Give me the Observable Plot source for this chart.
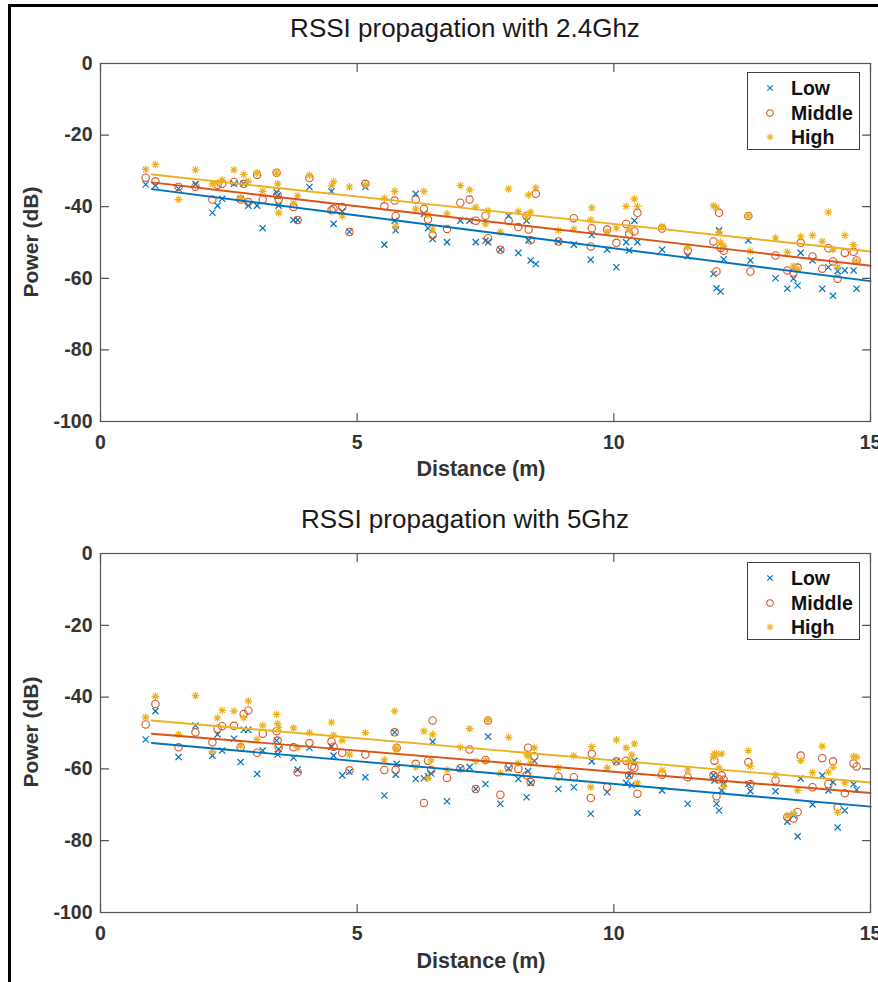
<!DOCTYPE html>
<html><head><meta charset="utf-8">
<script src="https://cdn.jsdelivr.net/npm/d3@7"></script>
<script src="https://cdn.jsdelivr.net/npm/@observablehq/plot@0.6"></script>
<style>
body{margin:0;background:#fff;}
#page{position:relative;width:878px;height:982px;overflow:hidden;background:#fff;font-family:"Liberation Sans",Arial,Helvetica,sans-serif;}
#border{position:absolute;left:8px;top:4px;width:900px;height:1000px;border-top:3px solid #000;border-left:3px solid #000;}
.plot{position:absolute;left:0;}
.title{position:absolute;transform:translate(-50%,-50%);white-space:nowrap;font-size:26px;color:#1a1a1a;}
.xlab{position:absolute;transform:translate(-50%,-50%);white-space:nowrap;font-size:21.5px;font-weight:bold;color:#333;}
.ylab{position:absolute;transform:translate(-50%,-50%) rotate(-90deg);white-space:nowrap;font-size:21px;font-weight:bold;color:#333;}
.legend{position:absolute;width:111px;height:76px;border:1px solid #404040;background:#fff;}
.item{position:absolute;left:0;height:24px;width:111px;}
.item svg{position:absolute;left:14px;top:4px;}
.item span{position:absolute;left:43px;top:0;line-height:24px;font-size:19.5px;font-weight:bold;color:#111;}
</style>
</head><body>
<div id="page">
  <div id="border"></div>
  <div id="p1" class="plot" style="top:0"></div>
  <div id="p2" class="plot" style="top:490px"></div>
  <div class="title" style="left:465px;top:28px">RSSI propagation with 2.4Ghz</div>
  <div class="title" style="left:465px;top:519px">RSSI propagation with 5Ghz</div>
  <div class="xlab" style="left:481px;top:469px">Distance (m)</div>
  <div class="xlab" style="left:481px;top:961px">Distance (m)</div>
  <div class="ylab" style="left:31px;top:242px">Power (dB)</div>
  <div class="ylab" style="left:31px;top:732px">Power (dB)</div>
  <div id="leg1" class="legend" style="left:747px;top:72px"></div>
  <div id="leg2" class="legend" style="left:747px;top:562px"></div>
</div>
<script>
// ---------- data ----------
const seriesNames = ["Low", "Middle", "High"];
const xTicks = [0, 5, 10, 15];
const yTicks = [0, -20, -40, -60, -80, -100];
const fitX = [1, 15];

// 2.4 GHz
const dist24 = [0.88,1.07,1.52,1.85,2.18,2.28,2.37,2.6,2.73,2.79,2.88,3.05,3.16,3.43,3.45,3.47,3.76,3.84,4.07,4.5,4.54,4.71,4.85,5.16,5.53,5.73,5.75,6.14,6.3,6.38,6.47,6.75,7.01,7.19,7.31,7.5,7.55,7.79,7.95,8.14,8.3,8.34,8.38,8.48,8.92,9.22,9.55,9.57,9.87,10.05,10.24,10.3,10.4,10.46,10.94,11.44,11.94,12.0,12.05,12.08,12.14,12.62,12.66,13.15,13.38,13.5,13.58,13.64,13.87,14.06,14.18,14.27,14.36,14.5,14.67,14.73];
const low24 = [-33.8,-34.1,-35.0,-33.7,-41.7,-39.7,-37.8,-33.6,-37.8,-33.6,-39.7,-39.7,-46.0,-35.9,-37.0,-39.7,-43.7,-43.7,-34.5,-35.7,-44.8,-41.3,-47.0,-34.5,-50.6,-43.9,-46.6,-36.4,-42.0,-46.0,-49.0,-49.9,-43.9,-43.9,-49.9,-49.5,-49.9,-52.0,-42.5,-52.9,-43.9,-49.4,-55.0,-56.0,-49.7,-50.6,-54.8,-47.9,-52.0,-56.9,-49.9,-52.2,-43.9,-49.9,-52.0,-53.8,-58.8,-62.8,-46.6,-63.7,-54.7,-49.4,-55.0,-60.0,-62.9,-60.1,-62.0,-52.9,-55.0,-62.9,-56.9,-64.9,-58.0,-57.8,-57.8,-62.9];
const mid24 = [-31.9,-32.9,-34.4,-34.4,-38.0,-33.9,-33.6,-33.1,-38.0,-33.6,-38.7,-31.1,-38.0,-30.5,-36.7,-38.0,-40.1,-43.7,-32.0,-41.0,-40.6,-40.1,-47.1,-33.6,-39.9,-38.3,-42.6,-38.0,-40.6,-43.6,-48.0,-46.2,-38.9,-38.0,-43.9,-42.5,-48.8,-52.0,-43.9,-45.7,-42.5,-46.4,-49.4,-36.4,-49.7,-43.2,-51.1,-46.0,-46.4,-50.1,-44.8,-47.6,-46.9,-41.7,-46.1,-52.2,-49.7,-58.1,-41.7,-51.5,-52.3,-42.6,-58.1,-53.6,-57.8,-58.4,-57.0,-50.1,-53.9,-57.3,-51.6,-55.3,-60.1,-52.9,-52.6,-55.0];
const high24 = [-29.6,-28.2,-38.0,-29.7,-33.6,-33.4,-32.5,-29.7,-37.6,-31.0,-32.9,-30.6,-35.7,-30.6,-33.6,-41.7,-39.0,-36.9,-31.2,-34.2,-33.0,-42.6,-34.5,-33.9,-37.6,-35.7,-45.5,-40.6,-35.7,-42.3,-46.3,-42.0,-34.1,-35.3,-40.1,-44.8,-41.1,-47.1,-35.0,-41.3,-42.9,-36.7,-41.5,-34.7,-46.6,-46.3,-43.7,-40.3,-47.0,-45.9,-39.9,-46.5,-37.8,-39.9,-45.5,-51.3,-39.7,-40.3,-47.1,-50.0,-51.0,-42.6,-52.4,-48.7,-52.7,-56.6,-57.5,-48.4,-48.0,-49.7,-41.5,-52.0,-56.9,-48.0,-50.6,-55.3];
const low24Fit = [-35.1, -60.8];
const mid24Fit = [-33.2, -56.5];
const high24Fit = [-31.0, -52.5];

// 5 GHz
const dist5 = [0.88,1.07,1.52,1.85,2.18,2.28,2.37,2.6,2.73,2.79,2.88,3.05,3.16,3.43,3.45,3.47,3.76,3.84,4.07,4.5,4.54,4.71,4.85,5.16,5.53,5.73,5.75,5.77,6.14,6.3,6.38,6.44,6.47,6.75,7.01,7.19,7.31,7.5,7.55,7.79,7.95,8.14,8.3,8.33,8.38,8.45,8.92,9.22,9.55,9.57,9.87,10.05,10.24,10.3,10.35,10.4,10.46,10.94,11.44,11.94,11.96,12.0,12.05,12.1,12.14,12.62,12.66,13.15,13.38,13.5,13.58,13.64,13.87,14.06,14.18,14.27,14.36,14.5,14.67,14.73];
const low5 = [-51.8,-43.9,-56.7,-47.9,-56.3,-50.4,-54.9,-51.6,-58.1,-49.1,-49.1,-61.4,-54.9,-52.1,-56.0,-54.5,-56.9,-60.2,-54.1,-53.8,-56.3,-61.8,-60.8,-62.3,-67.4,-49.8,-61.6,-58.6,-62.8,-62.6,-62.0,-61.3,-52.4,-69.0,-59.9,-59.5,-65.6,-64.2,-51.0,-69.7,-59.9,-62.8,-67.9,-60.6,-63.9,-57.8,-65.6,-65.1,-72.5,-57.9,-66.5,-57.9,-63.9,-61.8,-64.5,-57.7,-72.2,-66.0,-69.7,-61.8,-63.2,-69.7,-71.6,-66.0,-64.0,-64.2,-66.2,-66.2,-74.7,-73.0,-78.8,-62.7,-69.9,-61.8,-66.0,-63.7,-76.3,-71.6,-64.3,-65.8];
const mid5 = [-47.6,-41.9,-54.0,-49.8,-52.6,-48.8,-48.1,-48.0,-54.0,-44.7,-43.7,-55.5,-50.2,-49.5,-52.1,-54.0,-54.0,-60.9,-52.8,-52.4,-53.8,-55.5,-60.4,-56.0,-60.3,-49.8,-60.3,-54.1,-58.6,-69.5,-57.7,-60.3,-46.5,-62.5,-59.8,-54.6,-65.6,-57.5,-46.5,-67.2,-59.5,-60.0,-61.8,-54.1,-63.6,-56.5,-62.1,-62.3,-68.1,-55.8,-65.1,-57.9,-57.7,-61.8,-59.3,-59.7,-66.9,-61.6,-62.3,-61.8,-57.7,-67.6,-62.9,-61.8,-63.0,-58.1,-64.2,-63.2,-73.5,-73.8,-72.0,-56.3,-65.1,-57.0,-64.2,-57.9,-70.7,-66.8,-58.5,-59.3];
const high5 = [-45.6,-39.8,-50.4,-39.6,-55.1,-45.8,-43.7,-43.9,-53.5,-45.8,-41.1,-51.8,-47.9,-44.8,-47.4,-48.5,-48.6,-54.1,-49.9,-47.0,-50.6,-52.1,-56.0,-49.9,-57.5,-43.9,-54.1,-54.6,-59.5,-49.5,-62.6,-57.5,-50.4,-60.3,-54.0,-48.8,-57.9,-57.7,-46.3,-61.2,-51.2,-58.4,-55.8,-56.5,-58.4,-54.1,-59.7,-56.3,-65.1,-53.8,-59.7,-51.9,-54.1,-57.7,-56.1,-53.0,-63.9,-60.4,-60.3,-56.7,-55.8,-55.8,-59.7,-55.8,-64.9,-54.9,-59.3,-61.7,-73.0,-72.4,-66.0,-57.7,-61.0,-53.7,-60.9,-59.5,-72.1,-63.9,-56.5,-56.8];
const low5Fit = [-52.8, -70.5];
const mid5Fit = [-50.2, -66.7];
const high5Fit = [-46.5, -63.8];

// ---------- styles ----------
const colors = {Low: "#0072BD", Middle: "#D95319", High: "#EDB120"};
const frameColor = "#555";

const symTimes = {draw(c, size) { const r = Math.sqrt(size / Math.PI); c.moveTo(-r, -r); c.lineTo(r, r); c.moveTo(-r, r); c.lineTo(r, -r); }};
const symStar = {draw(c, size) { const r = Math.sqrt(size / Math.PI), d = r * 0.7071;
  c.moveTo(-r, 0); c.lineTo(r, 0); c.moveTo(0, -r); c.lineTo(0, r);
  c.moveTo(-d, -d); c.lineTo(d, d); c.moveTo(-d, d); c.lineTo(d, -d); }};
const tickShape = {draw(c, l) { c.moveTo(0, 0); c.lineTo(0, -l); }};

function panel(dist, low, mid, high, lowFit, midFit, highFit, height, mt, mb) {
  const pts = (vals, s) => dist.map((d, i) => ({x: d, y: vals[i], s}));
  const fit = (vals, s) => fitX.map((d, i) => ({x: d, y: vals[i], s}));
  const dotStyle = {x: "x", y: "y", fill: "none", strokeWidth: 1.1};
  return Plot.plot({
    width: 878, height,
    marginLeft: 100, marginRight: 8, marginTop: mt, marginBottom: mb,
    style: {fontFamily: "'Liberation Sans', Arial, sans-serif", background: "transparent", overflow: "visible"},
    x: {domain: [0, 15]},
    y: {domain: [-100, 0]},
    marks: [
      Plot.dot(pts(low, "Low"), {...dotStyle, symbol: symTimes, r: 3.1, stroke: colors.Low, strokeWidth: 1.2}),
      Plot.dot(pts(mid, "Middle"), {...dotStyle, symbol: "circle", r: 3.7, stroke: colors.Middle}),
      Plot.dot(pts(high, "High"), {...dotStyle, symbol: symStar, r: 3.9, stroke: colors.High, strokeWidth: 1.2}),
      Plot.line(fit(lowFit, "Low"), {x: "x", y: "y", stroke: colors.Low, strokeWidth: 1.9}),
      Plot.line(fit(midFit, "Middle"), {x: "x", y: "y", stroke: colors.Middle, strokeWidth: 1.9}),
      Plot.line(fit(highFit, "High"), {x: "x", y: "y", stroke: colors.High, strokeWidth: 1.9}),
      Plot.frame({stroke: frameColor, strokeWidth: 1.2}),
      Plot.vector(xTicks, {x: d => d, y: -100, length: 8, rotate: 0, anchor: "start", shape: tickShape, stroke: frameColor, strokeWidth: 1.2}),
      Plot.vector(xTicks, {x: d => d, y: 0, length: 8, rotate: 180, anchor: "start", shape: tickShape, stroke: frameColor, strokeWidth: 1.2}),
      Plot.vector(yTicks, {x: 0, y: d => d, length: 8, rotate: 90, anchor: "start", shape: tickShape, stroke: frameColor, strokeWidth: 1.2}),
      Plot.vector(yTicks, {x: 15, y: d => d, length: 8, rotate: -90, anchor: "start", shape: tickShape, stroke: frameColor, strokeWidth: 1.2}),
      Plot.axisX({ticks: xTicks, tickSize: 0, tickPadding: 14, tickFormat: d => String(d), fontSize: 19.5, fontWeight: "bold", fill: "#333", label: null}),
      Plot.axisY({ticks: yTicks, tickSize: 0, tickPadding: 8, tickFormat: d => String(d), fontSize: 19.5, fontWeight: "bold", fill: "#333", label: null})
    ]
  });
}

document.getElementById("p1").append(panel(dist24, low24, mid24, high24, low24Fit, mid24Fit, high24Fit, 490, 63, 69));
document.getElementById("p2").append(panel(dist5, low5, mid5, high5, low5Fit, mid5Fit, high5Fit, 492, 63, 70));

// legends
const icons = {
  Low: '<line x1="-2.7" y1="-2.7" x2="2.7" y2="2.7"/><line x1="-2.7" y1="2.7" x2="2.7" y2="-2.7"/>',
  Middle: '<circle r="3.3" fill="none"/>',
  High: '<line x1="-3.4" y1="0" x2="3.4" y2="0"/><line x1="0" y1="-3.4" x2="0" y2="3.4"/><line x1="-2.4" y1="-2.4" x2="2.4" y2="2.4"/><line x1="-2.4" y1="2.4" x2="2.4" y2="-2.4"/>'
};
function legend(id) {
  const el = document.getElementById(id);
  seriesNames.forEach((name, i) => {
    const it = document.createElement("div");
    it.className = "item";
    it.style.top = (3 + i * 24.5) + "px";
    it.innerHTML = `<svg width="16" height="16" viewBox="-8 -8 16 16"><g stroke="${colors[name]}" stroke-width="1.1" fill="none">${icons[name]}</g></svg><span>${name}</span>`;
    el.append(it);
  });
}
legend("leg1"); legend("leg2");
</script>
</body></html>
